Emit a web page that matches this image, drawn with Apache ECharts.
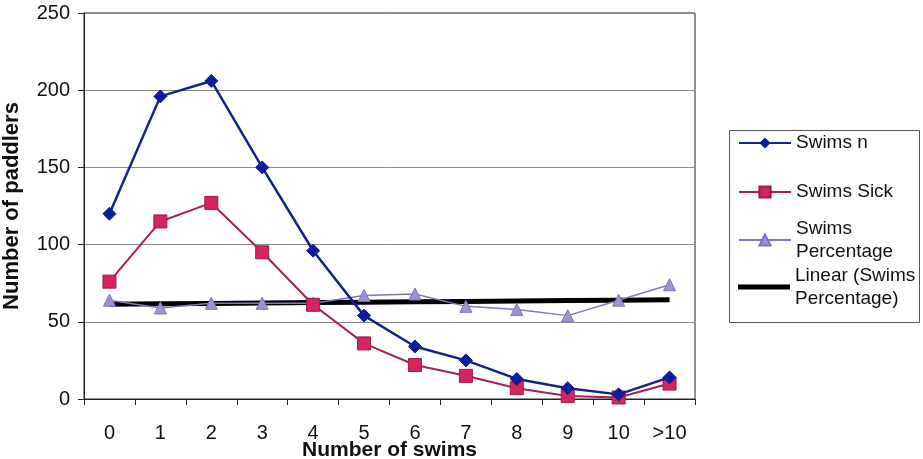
<!DOCTYPE html>
<html>
<head>
<meta charset="utf-8">
<script src="https://cdn.jsdelivr.net/npm/echarts@6/dist/echarts.min.js"></script>
<style>
  html, body { margin: 0; padding: 0; background: #fff; }
  #chart { width: 923px; height: 459px; }
</style>
</head>
<body>
<div id="chart"></div>
<script>
// 数据
var categories = ['0', '1', '2', '3', '4', '5', '6', '7', '8', '9', '10', '>10'];
var swimsN     = [120, 196, 206, 150, 96, 54, 34, 25, 13, 7, 3, 14];
var swimsSick  = [76, 115, 127, 95, 61, 36, 22, 15, 7, 2, 1, 10];
var swimsPct   = [64, 59, 62, 62, 62, 67, 68, 60, 58, 54, 64, 74];
var yTicks     = [0, 50, 100, 150, 200, 250];

// 线性趋势线 (最小二乘)
function linearFit(vals) {
  var n = vals.length, sx = 0, sy = 0, sxy = 0, sxx = 0;
  for (var i = 0; i < n; i++) { sx += i; sy += vals[i]; sxy += i * vals[i]; sxx += i * i; }
  var b = (n * sxy - sx * sy) / (n * sxx - sx * sx);
  var a = (sy - b * sx) / n;
  return vals.map(function (v, i) { return +(a + b * i).toFixed(2); });
}
var trend = linearFit(swimsPct);

var font = 'Liberation Sans, Arial, sans-serif';

function legendAt(name, top, twoLine, icon) {
  var item = { name: name };
  if (twoLine) {
    item.textStyle = { padding: [23, 0, 0, 0] };
  }
  var lg = {
    data: [item],
    orient: 'vertical',
    left: 738,
    top: top,
    padding: 0,
    itemWidth: 52,
    itemHeight: 14,
    itemGap: 0,
    selectedMode: false,
    textStyle: { fontFamily: font, fontSize: 19, lineHeight: 23, color: '#111' }
  };
  if (icon) {
    // 趋势线只画粗线
    item.icon = 'rect';
    lg.itemHeight = 5;
    lg.itemStyle = { color: '#000' };
  }
  return lg;
}

var option = {
  animation: false,
  backgroundColor: '#fff',
  grid: {
    left: 84, right: 228, top: 13, bottom: 60,
    outerBoundsMode: 'none',
    containLabel: false,
    show: true, borderColor: '#222', borderWidth: 1
  },
  legend: [
    legendAt('Swims n', 131.5, false),
    legendAt('Swims Sick', 180.5, false),
    legendAt('Swims\nPercentage', 205.5, true),
    legendAt('Linear (Swims\nPercentage)', 252.5, true, true)
  ],
  graphic: [{
    type: 'rect',
    shape: { x: 729.5, y: 130.5, width: 190, height: 192 },
    style: { fill: 'none', stroke: '#555', lineWidth: 1 },
    z: -1
  }],
  xAxis: {
    type: 'category',
    data: categories,
    boundaryGap: true,
    name: 'Number of swims',
    nameLocation: 'middle',
    nameGap: 41,
    nameMoveOverlap: false,
    nameTextStyle: { fontFamily: font, fontSize: 21, fontWeight: 'bold', color: '#111' },
    axisLine: { lineStyle: { color: '#222', width: 1 } },
    axisTick: { show: true, length: 6, alignWithLabel: false, lineStyle: { color: '#222' } },
    axisLabel: { fontFamily: font, fontSize: 20, color: '#111', margin: 24 },
    splitLine: { show: false }
  },
  yAxis: {
    type: 'value',
    min: yTicks[0],
    max: yTicks[yTicks.length - 1],
    interval: 50,
    name: 'Number of paddlers',
    nameLocation: 'middle',
    nameGap: 61,
    nameMoveOverlap: false,
    nameTextStyle: { fontFamily: font, fontSize: 22, fontWeight: 'bold', color: '#111' },
    axisLine: { show: true, lineStyle: { color: '#222', width: 1 } },
    axisTick: { show: true, length: 6, lineStyle: { color: '#222' } },
    axisLabel: { fontFamily: font, fontSize: 20, color: '#111', margin: 14 },
    splitLine: { show: true, lineStyle: { color: '#8a8a8a', width: 1 } }
  },
  series: [
    {
      name: 'Swims n',
      type: 'line',
      data: swimsN,
      symbol: 'diamond',
      symbolSize: 13,
      lineStyle: { color: '#14238a', width: 2.5 },
      itemStyle: { color: '#0c1c9a', borderColor: '#0c1c9a' },
      z: 4
    },
    {
      name: 'Swims Sick',
      type: 'line',
      data: swimsSick,
      symbol: 'rect',
      symbolSize: 13,
      lineStyle: { color: '#a8204c', width: 2 },
      itemStyle: { color: '#d6245c', borderColor: '#a01a48', borderWidth: 1 },
      z: 3
    },
    {
      name: 'Swims\nPercentage',
      type: 'line',
      data: swimsPct,
      symbol: 'triangle',
      symbolSize: 12,
      lineStyle: { color: '#7f77b8', width: 1.5 },
      itemStyle: { color: '#9d93d4', borderColor: '#7c72b8', borderWidth: 1 },
      z: 2
    },
    {
      name: 'Linear (Swims\nPercentage)',
      type: 'line',
      data: trend,
      symbol: 'none',
      lineStyle: { color: '#000', width: 5 },
      itemStyle: { color: '#000' },
      z: 1
    }
  ]
};

var myChart = echarts.init(document.getElementById('chart'));
myChart.setOption(option);
</script>
</body>
</html>
